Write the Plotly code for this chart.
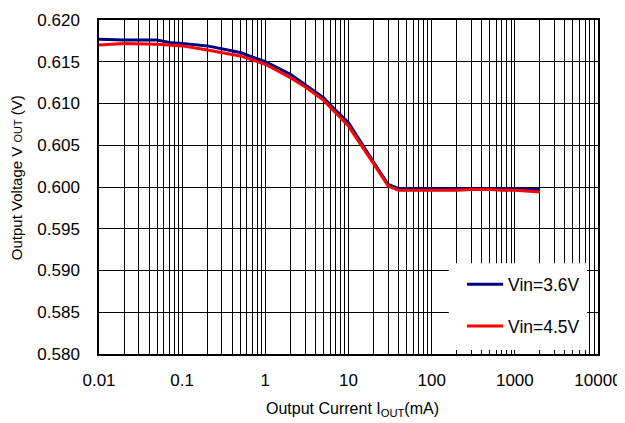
import plotly.graph_objects as go

# Data
x_36 = [0.01, 0.02, 0.05, 0.07, 0.1, 0.2, 0.5, 1, 2, 3, 5, 7, 10, 20, 30, 40, 100, 200, 500, 1000, 2000]
y_36 = [0.6177, 0.6176, 0.6176, 0.6173, 0.6172, 0.6169, 0.6161, 0.6150, 0.6135, 0.6123, 0.6107, 0.6092,
        0.6077, 0.6030, 0.6003, 0.5998, 0.5998, 0.5998, 0.5998, 0.5998, 0.5997]

x_45 = [0.01, 0.02, 0.05, 0.1, 0.2, 0.5, 1, 2, 3, 5, 7, 10, 20, 30, 40, 100, 200, 300, 500, 700, 1000, 1500, 2000]
y_45 = [0.6170, 0.6172, 0.6171, 0.6169, 0.6164, 0.6157, 0.6147, 0.6131, 0.6120, 0.6104, 0.6089, 0.6073,
        0.6028, 0.6001, 0.5996, 0.5996, 0.5996, 0.5997, 0.5997, 0.5996, 0.5996, 0.5995, 0.5994]

x_tickvals = [0.01, 0.1, 1, 10, 100, 1000, 10000]
x_ticktext = ["0.01", "0.1", "1", "10", "100", "1000", "10000"]

FONT = "Liberation Sans, Arial, sans-serif"

fig = go.Figure()
fig.add_trace(go.Scatter(x=x_36, y=y_36, mode="lines", name="Vin=3.6V",
                         line=dict(color="#000080", width=3), legendgroup="a"))
fig.add_trace(go.Scatter(x=x_45, y=y_45, mode="lines", name="Vin=4.5V",
                         line=dict(color="#FF0000", width=3), legendgroup="b"))

fig.update_layout(
    width=617, height=415,
    margin=dict(l=91, r=27, t=12, b=69, autoexpand=False),
    paper_bgcolor="white", plot_bgcolor="white",
    font=dict(family=FONT, color="black", size=17),
    legend=dict(x=0.7275, y=0.262, xanchor="left", yanchor="top",
                bgcolor="rgba(0,0,0,0)", borderwidth=0, font=dict(size=17.5, family=FONT),
                tracegroupgap=16, itemwidth=36),
    xaxis=dict(type="log", range=[-2, 4], tickvals=x_tickvals, ticktext=x_ticktext,
               showgrid=True, gridcolor="black", gridwidth=1, automargin=False,
               minor=dict(dtick="D1", showgrid=True, gridcolor="black", gridwidth=1),
               showline=True, linecolor="black", linewidth=1.5, mirror=True,
               ticks="", ticklabelstandoff=10, tickfont=dict(size=17),
               zeroline=False),
    yaxis=dict(range=[0.58, 0.62], dtick=0.005, tick0=0.58, tickformat=".3f",
               showgrid=True, gridcolor="black", gridwidth=1, automargin=False,
               showline=True, linecolor="black", linewidth=1.5, mirror=True,
               ticks="", ticklabelstandoff=14, tickfont=dict(size=17),
               zeroline=False),
)

# white legend background panel covering the grid
fig.add_shape(type="rect", xref="paper", yref="paper", x0=0.701, x1=0.978, y0=0.012, y1=0.272,
              fillcolor="white", line=dict(width=0), layer="above")

fig.add_annotation(text="Output Current I<sub>OUT</sub>(mA)", xref="paper", yref="paper",
                   x=0.508, y=-0.165, xanchor="center", yanchor="middle", showarrow=False,
                   font=dict(size=16, family=FONT))
fig.add_annotation(text="Output Voltage V <span style='font-size:11px'>OUT</span> (V)",
                   xref="paper", yref="paper", x=-0.164, y=0.527, textangle=-90,
                   xanchor="center", yanchor="middle", showarrow=False,
                   font=dict(size=15, family=FONT))

fig.write_html("out.html")
